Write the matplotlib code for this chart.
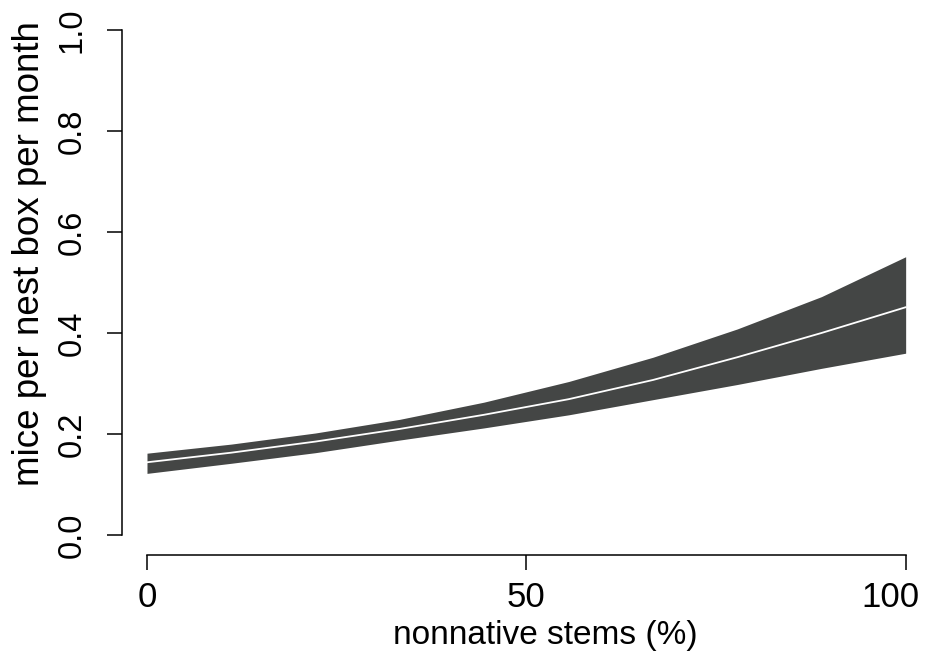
import matplotlib
matplotlib.use('Agg')
import matplotlib.pyplot as plt
from matplotlib.transforms import ScaledTranslation

# predicted mice per nest box per month along the nonnative-stem gradient
stems = [0, 11.1, 22.2, 33.3, 44.4, 55.6, 66.7, 77.8, 88.9, 100]
mice_mean = [0.144, 0.163, 0.185, 0.210, 0.238, 0.269, 0.307, 0.352, 0.400, 0.451]
mice_lower = [0.122, 0.142, 0.163, 0.188, 0.212, 0.238, 0.268, 0.298, 0.330, 0.360]
mice_upper = [0.162, 0.180, 0.202, 0.229, 0.263, 0.304, 0.352, 0.408, 0.472, 0.551]

x_ticks = [0, 50, 100]
y_ticks = [0.0, 0.2, 0.4, 0.6, 0.8, 1.0]
y_ticklabels = ["0.0", "0.2", "0.4", "0.6", "0.8", "1.0"]

plt.rcParams['font.family'] = ['Liberation Sans', 'DejaVu Sans']

W, H = 925, 660
fig = plt.figure(figsize=(W / 100, H / 100), dpi=100)
ax = fig.add_axes([122 / W, 1 - 555 / H, (936 - 122) / W, (555 - 10) / H])

ax.fill_between(stems, mice_lower, mice_upper, color="#444645", linewidth=0)
ax.plot(stems, mice_mean, color="white", linewidth=1.3)

ax.set_xlim(-25 / 7.59, 104)
ax.set_ylim(-20 / 505, 525 / 505)

for side in ("top", "right"):
    ax.spines[side].set_visible(False)
ax.spines["left"].set_bounds(0, 1)
ax.spines["bottom"].set_bounds(0, 100)
for side in ("left", "bottom"):
    ax.spines[side].set_linewidth(1.1)

ax.set_xticks(x_ticks)
ax.set_yticks(y_ticks)
ax.set_yticklabels(y_ticklabels, rotation=90, va="center")
ax.tick_params(axis="both", length=11, width=1.1)
ax.tick_params(axis="x", pad=8, labelsize=25)
ax.tick_params(axis="y", pad=14, labelsize=23.5)

# keep the last x tick label inside the figure
last = ax.get_xticklabels()[-1]
last.set_horizontalalignment("right")
last.set_transform(last.get_transform() + ScaledTranslation(14 / 100, 0, fig.dpi_scale_trans))

ax.set_xlabel("nonnative stems (%)", fontsize=24)
ax.xaxis.set_label_coords((545 - 122) / 814, (555 - 620) / 545)
ax.set_ylabel("mice per nest box per month", fontsize=26.5)
ax.yaxis.set_label_coords((47 - 122) / 814, (555 - 254) / 545)

plt.savefig("out.png", dpi=100)
plt.close()
